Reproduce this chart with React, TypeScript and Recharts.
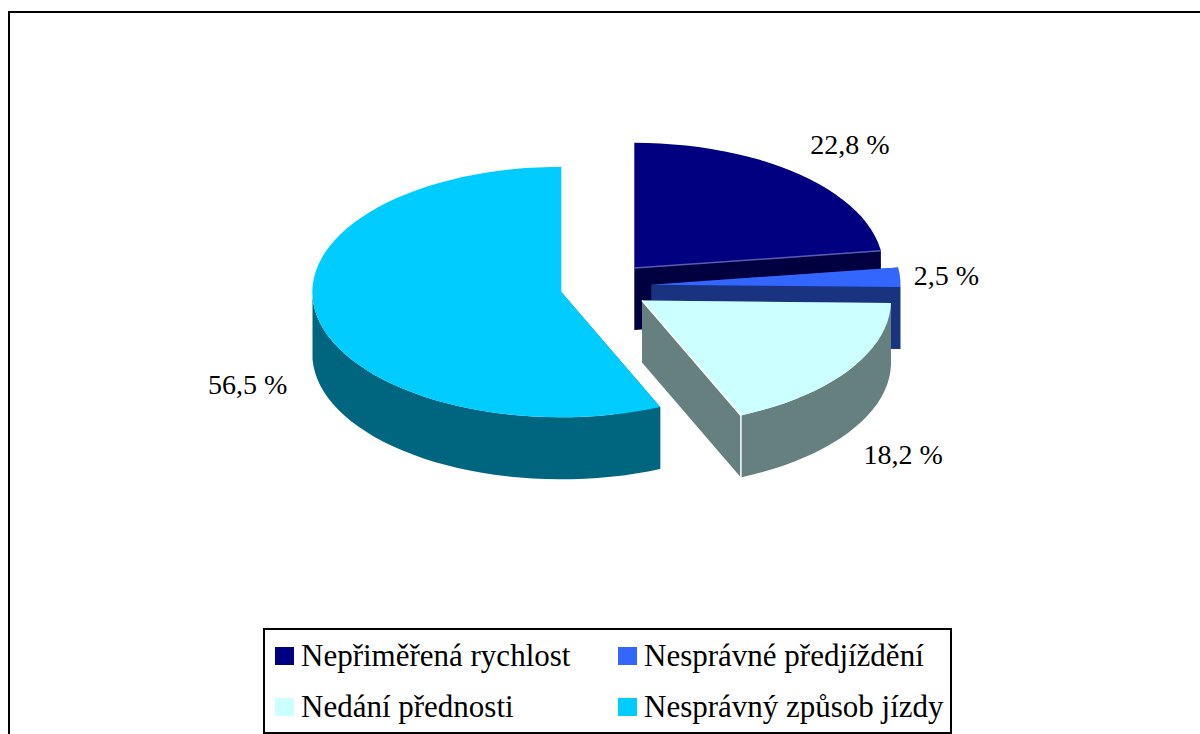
import { Legend, Pie, PieChart } from "recharts";

const categories = [
  "Nepřiměřená rychlost",
  "Nesprávné předjíždění",
  "Nedání přednosti",
  "Nesprávný způsob jízdy",
];
const shares = [22.8, 2.5, 18.2, 56.5];
const topColors = ["#000080", "#3366ff", "#ccffff", "#00ccff"];
const wallColors = ["#000040", "#1a3380", "#668080", "#006680"];
const edgeColors = ["#5a5ab0", "none", "#ffffff", "none"];
// how far out each percentage sits, measured on the unsquashed pie
const labelRadii = [373, 342, 359, 365];
const labelDrops = [0, 0, 68, 61];
// small per-slice corrections, the original's explosion isn't perfectly radial
const sliceNudges = [
  [0, -1],
  [2, 0],
  [0, 2],
  [0, 1.5],
];

const FONT = '"Liberation Serif", "Times New Roman", serif';
const CX = 605;
const CY = 286;
const RADIUS = 249;
const SQUASH = 0.503; // 3D tilt of the pie
const DEPTH = 62;
const EXPLODE = 44.6;
const STEP = 3; // the original's arcs are faceted

const rows = categories.map((name, i) => ({
  name,
  value: shares[i],
  fill: topColors[i],
  wall: wallColors[i],
  edge: edgeColors[i],
  nudge: sliceNudges[i],
}));

const rad = (deg: number) => (deg * Math.PI) / 180;
const pts = (list: number[][]) => list.map((p) => `${p[0].toFixed(1)},${p[1].toFixed(1)}`).join(" ");

function Slice(props: any) {
  const { cx, cy, outerRadius, startAngle, endAngle, midAngle, fill } = props;
  const wall = props.wall ?? props.payload?.wall;
  const edge = props.edge ?? props.payload?.edge;
  const nudge = props.nudge ?? props.payload?.nudge ?? [0, 0];
  const ox = cx + EXPLODE * Math.cos(rad(midAngle)) + nudge[0];
  const oy = cy - EXPLODE * SQUASH * Math.sin(rad(midAngle)) + nudge[1];
  const at = (deg: number) => [
    ox + outerRadius * Math.cos(rad(deg)),
    oy - outerRadius * SQUASH * Math.sin(rad(deg)),
  ];
  const down = (p: number[]) => [p[0], p[1] + DEPTH];

  const arc: number[][] = [];
  for (let a = startAngle; a > endAngle; a -= STEP) arc.push(at(a));
  arc.push(at(endAngle));

  const centre = [ox, oy];
  const first = arc[0];
  const last = arc[arc.length - 1];
  const front = arc.filter((p) => p[1] >= oy);

  return (
    <g>
      <polygon points={pts([centre, first, down(first), down(centre)])} fill={wall} />
      <polygon points={pts([centre, last, down(last), down(centre)])} fill={wall} />
      {front.length > 1 && (
        <polygon points={pts([...front, ...front.map(down).reverse()])} fill={wall} />
      )}
      <polygon points={pts([centre, ...arc])} fill={fill} />
      {edge !== "none" && (
        <polyline
          points={pts(edge === "#ffffff" ? [centre, last, down(last)] : [centre, last])}
          fill="none"
          stroke={edge}
          strokeWidth={1.5}
        />
      )}
    </g>
  );
}

function PercentLabel(props: any) {
  const { cx, cy, midAngle, index, value } = props;
  const r = labelRadii[index];
  const s = Math.sin(rad(midAngle));
  const x = cx + r * Math.cos(rad(midAngle));
  const y = cy - r * SQUASH * s + labelDrops[index];
  return (
    <text
      x={x}
      y={y}
      textAnchor="middle"
      dominantBaseline="central"
      fontFamily={FONT}
      fontSize={28}
      fill="#000"
    >
      {value.toFixed(1).replace(".", ",")} %
    </text>
  );
}

function LegendBox({ payload }: any) {
  return (
    <div
      style={{
        boxSizing: "border-box",
        width: 689,
        height: 106,
        border: "2px solid #000",
        background: "#fff",
        display: "grid",
        gridTemplateColumns: "343px 1fr",
        gridTemplateRows: "1fr 1fr",
        alignItems: "center",
        padding: "0 0 0 10px",
        fontFamily: FONT,
        fontSize: 31,
        color: "#000",
        whiteSpace: "nowrap",
      }}
    >
      {(payload ?? []).map((item: any) => (
        <div key={item.value} style={{ display: "flex", alignItems: "center" }}>
          <span style={{ width: 19, height: 18, background: item.color, marginRight: 7 }} />
          <span>{item.value}</span>
        </div>
      ))}
    </div>
  );
}

export default function App() {
  return (
    <div style={{ position: "absolute", left: 0, top: 0, width: 1200, height: 734, overflow: "hidden", background: "#fff" }}>
      <div
        style={{
          position: "absolute",
          left: 8,
          top: 11,
          width: 1192,
          height: 723,
          borderTop: "2px solid #000",
          borderLeft: "2px solid #000",
          boxSizing: "border-box",
        }}
      />
      <PieChart width={1200} height={734} margin={{ top: 0, right: 0, bottom: 0, left: 0 }}>
        <Pie
          data={rows}
          dataKey="value"
          nameKey="name"
          cx={CX}
          cy={CY}
          innerRadius={0}
          outerRadius={RADIUS}
          startAngle={90}
          endAngle={-270}
          stroke="none"
          shape={Slice}
          label={PercentLabel}
          labelLine={false}
          isAnimationActive={false}
        />
        <Legend
          content={LegendBox}
          itemSorter={null}
          wrapperStyle={{ position: "absolute", left: 263, top: 628, bottom: "auto", right: "auto", width: 689, height: 106 }}
        />
      </PieChart>
    </div>
  );
}
